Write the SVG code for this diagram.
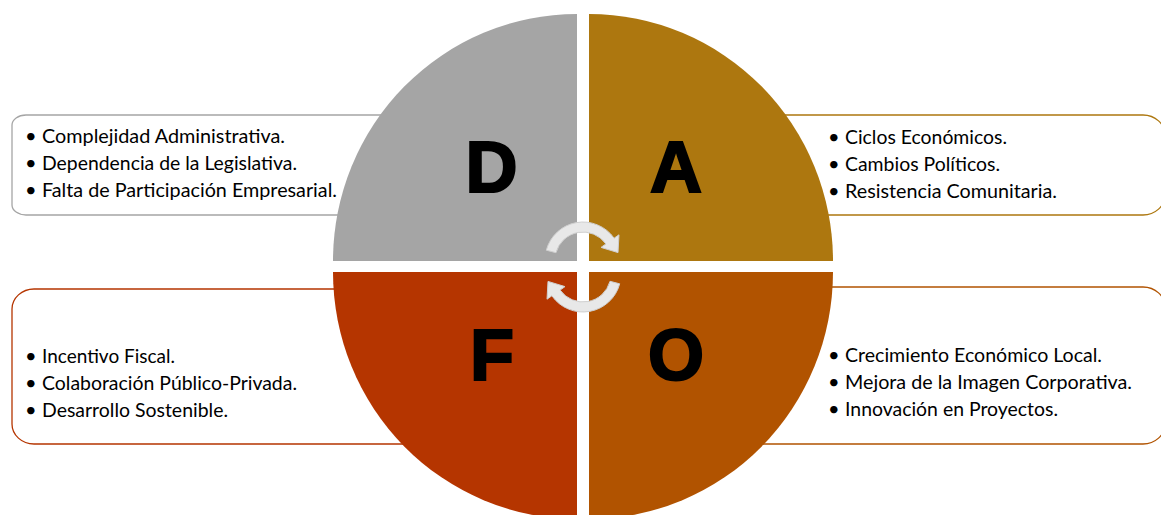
<svg xmlns="http://www.w3.org/2000/svg" width="1161" height="515" viewBox="0 0 1161 515">
  <style>
    .box { fill: #FFFFFF; stroke-width: 1.3; }
    .txt { font-family: Lato, "Liberation Sans", sans-serif; font-size: 20px; fill: #000000; }
    .big { font-family: "Liberation Sans", Arial, sans-serif; font-weight: bold; font-size: 72px; fill: #000000; stroke: #000000; stroke-width: 2.2; stroke-linejoin: miter; text-anchor: middle; }
    .arrow { fill: #E8E8E8; stroke: #CFCFCF; stroke-width: 1; }
  </style>
  <rect width="1161" height="515" fill="#FFFFFF"/>

  <g id="box-d">
    <path class="box" stroke="#A5A5A5" d="M26,115 L450,115 L450,215 L26,215 A14,10 0 0 1 12,205 L12,125 A14,10 0 0 1 26,115 Z"/>
  </g>
  <g id="box-a">
    <path class="box" stroke="#AD770F" d="M700,115 L1143,115 A22,20 0 0 1 1165,135 L1165,195 A22,20 0 0 1 1143,215 L700,215 Z"/>
  </g>
  <g id="box-f">
    <path class="box" stroke="#B53500" d="M34,289 L450,289 L450,444 L34,444 A22,20 0 0 1 12,424 L12,309 A22,20 0 0 1 34,289 Z"/>
  </g>
  <g id="box-o">
    <path class="box" stroke="#B15300" d="M700,287 L1143,287 A22,20 0 0 1 1165,307 L1165,424 A22,20 0 0 1 1143,444 L700,444 Z"/>
  </g>

  <g id="quadrant-d">
    <path fill="#A5A5A5" d="M577,261 L333,261 A244,247 0 0 1 577,14 Z"/>
    <text class="big" x="491.5" y="192">D</text>
  </g>
  <g id="quadrant-a">
    <path fill="#AD770F" d="M589,261 L589,14 A244,247 0 0 1 833,261 Z"/>
    <text class="big" x="676" y="192">A</text>
  </g>
  <g id="quadrant-f">
    <path fill="#B53500" d="M577,272 L577,519 A244,247 0 0 1 333,272 Z"/>
    <text class="big" x="492" y="380">F</text>
  </g>
  <g id="quadrant-o">
    <path fill="#B15300" d="M589,272 L833,272 A244,247 0 0 1 589,519 Z"/>
    <text class="big" x="676" y="380">O</text>
  </g>

  <g id="text-d">
    <text class="txt" x="25" y="143">•</text>
    <text class="txt" x="25" y="170">•</text>
    <text class="txt" x="25" y="197">•</text>
    <text class="txt" x="42" y="143" textLength="243" lengthAdjust="spacingAndGlyphs">Complejidad Administrativa.</text>
    <text class="txt" x="42" y="170" textLength="255" lengthAdjust="spacingAndGlyphs">Dependencia de la Legislativa.</text>
    <text class="txt" x="42" y="197" textLength="295" lengthAdjust="spacingAndGlyphs">Falta de Participación Empresarial.</text>
  </g>
  <g id="text-a">
    <text class="txt" x="828" y="144">•</text>
    <text class="txt" x="828" y="171">•</text>
    <text class="txt" x="828" y="198">•</text>
    <text class="txt" x="845" y="144" textLength="162" lengthAdjust="spacingAndGlyphs">Ciclos Económicos.</text>
    <text class="txt" x="845" y="171" textLength="155" lengthAdjust="spacingAndGlyphs">Cambios Políticos.</text>
    <text class="txt" x="845" y="198" textLength="212" lengthAdjust="spacingAndGlyphs">Resistencia Comunitaria.</text>
  </g>
  <g id="text-f">
    <text class="txt" x="25" y="363">•</text>
    <text class="txt" x="25" y="390">•</text>
    <text class="txt" x="25" y="417">•</text>
    <text class="txt" x="42" y="363" textLength="133" lengthAdjust="spacingAndGlyphs">Incentivo Fiscal.</text>
    <text class="txt" x="42" y="390" textLength="255" lengthAdjust="spacingAndGlyphs">Colaboración Público-Privada.</text>
    <text class="txt" x="42" y="417" textLength="186" lengthAdjust="spacingAndGlyphs">Desarrollo Sostenible.</text>
  </g>
  <g id="text-o">
    <text class="txt" x="828" y="362">•</text>
    <text class="txt" x="828" y="389">•</text>
    <text class="txt" x="828" y="416">•</text>
    <text class="txt" x="845" y="362" textLength="257" lengthAdjust="spacingAndGlyphs">Crecimiento Económico Local.</text>
    <text class="txt" x="845" y="389" textLength="287" lengthAdjust="spacingAndGlyphs">Mejora de la Imagen Corporativa.</text>
    <text class="txt" x="845" y="416" textLength="213" lengthAdjust="spacingAndGlyphs">Innovación en Proyectos.</text>
  </g>

  <g id="connectors">
    <path id="cycle-top" class="arrow" d="M546.3,250.2 A38,38 0 0 1 614.1,238.2 L619,234.8 L618,252.6 L601,247.4 L605.9,243.9 A28,28 0 0 0 556,252.7 Z"/>
    <path id="cycle-bottom" class="arrow" transform="rotate(180 583 267)" d="M546.3,250.2 A38,38 0 0 1 614.1,238.2 L619,234.8 L618,252.6 L601,247.4 L605.9,243.9 A28,28 0 0 0 556,252.7 Z"/>
  </g>
</svg>
